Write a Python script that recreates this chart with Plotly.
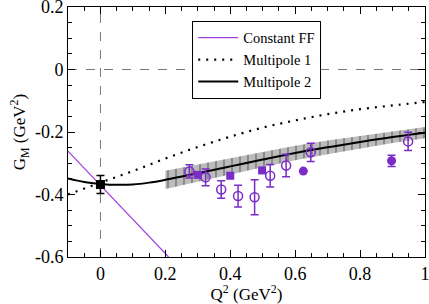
import plotly.graph_objects as go

# ---- data ----
const_x = [-0.1, 0.21]
const_y = [-0.261, -0.600]

mp1_x = [-0.1, 0.0, 0.1, 0.2, 0.3, 0.4, 0.5, 0.6, 0.7, 0.8, 0.9, 1.0]
mp1_y = [-0.400, -0.362, -0.325, -0.285, -0.248, -0.215, -0.186, -0.163, -0.143, -0.127, -0.115, -0.104]

mp2_x = [-0.1, -0.05, 0.0, 0.05, 0.1, 0.15, 0.2, 0.3, 0.4, 0.5, 0.6, 0.7, 0.8, 0.9, 1.0]
mp2_y = [-0.349, -0.360, -0.366, -0.369, -0.368, -0.362, -0.353, -0.332, -0.310, -0.288, -0.267, -0.249, -0.232, -0.216, -0.202]

band_x = [0.2, 0.3, 0.4, 0.5, 0.6, 0.7, 0.8, 0.9, 1.0]
band_c = [-0.353, -0.332, -0.310, -0.288, -0.267, -0.249, -0.232, -0.216, -0.202]
band_hw = [0.029, 0.028, 0.026, 0.025, 0.023, 0.022, 0.020, 0.019, 0.018]

open_x = [0.274, 0.324, 0.372, 0.424, 0.475, 0.523, 0.572, 0.648, 0.948]
open_y = [-0.326, -0.345, -0.384, -0.405, -0.409, -0.340, -0.307, -0.265, -0.230]
open_err = [0.021, 0.027, 0.028, 0.035, 0.056, 0.036, 0.036, 0.029, 0.029]

fsq_x = [0.300, 0.400, 0.498]
fsq_y = [-0.337, -0.340, -0.323]

fci_x = [0.625, 0.897]
fci_y = [-0.325, -0.292]
fci_err = [0.0, 0.018]

lat_x = [0.0]
lat_y = [-0.368]
lat_err = [0.029]

x_ticks = [0, 0.2, 0.4, 0.6, 0.8, 1.0]
x_ticklabels = ["0", "0.2", "0.4", "0.6", "0.8", "1"]
y_ticks = [-0.6, -0.4, -0.2, 0, 0.2]
y_ticklabels = ["-0.6", "-0.4", "-0.2", "0", "0.2"]

PURPLE = "#7a2cc8"
LINEP = "#a040e0"
FONT = "Liberation Serif"

band_hi = [c + h for c, h in zip(band_c, band_hw)]
band_lo = [c - h for c, h in zip(band_c, band_hw)]

fig = go.Figure()

# band (hatched)
fig.add_trace(go.Scatter(x=band_x, y=band_lo, mode="lines", line=dict(width=0, color="rgba(0,0,0,0)"),
                         showlegend=False, hoverinfo="skip"))
fig.add_trace(go.Scatter(x=band_x, y=band_hi, mode="lines", line=dict(width=0, color="rgba(0,0,0,0)"),
                         fill="tonexty", fillcolor="#bcbcbc",
                         fillpattern=dict(shape="|", size=8, solidity=0.15, fgcolor="#111111", bgcolor="#bcbcbc"),
                         showlegend=False, hoverinfo="skip"))

fig.add_trace(go.Scatter(x=const_x, y=const_y, mode="lines", name="Constant FF",
                         line=dict(color=LINEP, width=1.2)))
fig.add_trace(go.Scatter(x=mp1_x, y=mp1_y, mode="lines", name="Multipole 1", line_shape="spline",
                         line=dict(color="black", width=2.2, dash="2px,6px")))
fig.add_trace(go.Scatter(x=mp2_x, y=mp2_y, mode="lines", name="Multipole 2", line_shape="spline",
                         line=dict(color="black", width=2)))

fig.add_trace(go.Scatter(x=open_x, y=open_y, mode="markers", showlegend=False,
                         marker=dict(symbol="circle-open", size=9, color=PURPLE, line=dict(width=1.5, color=PURPLE)),
                         error_y=dict(type="data", array=open_err, color=PURPLE, thickness=1.5, width=4)))
fig.add_trace(go.Scatter(x=fsq_x, y=fsq_y, mode="markers", showlegend=False,
                         marker=dict(symbol="square", size=8, color=PURPLE)))
fig.add_trace(go.Scatter(x=fci_x, y=fci_y, mode="markers", showlegend=False,
                         marker=dict(symbol="circle", size=9, color=PURPLE),
                         error_y=dict(type="data", array=fci_err, color=PURPLE, thickness=1.5, width=4)))
fig.add_trace(go.Scatter(x=lat_x, y=lat_y, mode="markers", showlegend=False,
                         marker=dict(symbol="square", size=9, color="black"),
                         error_y=dict(type="data", array=lat_err, color="black", thickness=1.5, width=4)))

axis_common = dict(showgrid=False, zeroline=False, showline=True, linecolor="black", linewidth=1,
                   mirror="ticks", ticks="inside", ticklen=7, tickcolor="black", tickwidth=1,
                   ticklabeloverflow="allow",
                   tickfont=dict(family=FONT, size=18, color="black"),
                   minor=dict(ticks="inside", ticklen=4, tickcolor="black", showgrid=False))

fig.update_xaxes(range=[-0.1, 1.0], minor_dtick=0.05, minor_tick0=0,
                 title=dict(text="Q<sup>2</sup> (GeV<sup>2</sup>)", font=dict(family=FONT, size=17, color="black"), standoff=0),
                 tickvals=x_ticks, ticktext=x_ticklabels,
                 **axis_common)
fig.update_yaxes(range=[-0.6, 0.2], minor_dtick=0.05, minor_tick0=0,
                 tickvals=y_ticks, ticktext=y_ticklabels,
                 title=dict(text="G<sub>M</sub> (GeV<sup>2</sup>)", font=dict(family=FONT, size=17, color="black"), standoff=4),
                 **axis_common)

fig.add_shape(type="line", xref="x", yref="paper", x0=0, x1=0, y0=0, y1=1,
              line=dict(color="#555555", width=0.8, dash="dash"), layer="below")
fig.add_shape(type="line", xref="paper", yref="y", x0=0, x1=1, y0=0, y1=0,
              line=dict(color="#555555", width=0.8, dash="dash"), layer="below")

fig.update_layout(
    width=429, height=304,
    margin=dict(l=68, r=4, t=7, b=47, autoexpand=False),
    paper_bgcolor="white", plot_bgcolor="white",
    font=dict(family=FONT, color="black"),
    legend=dict(x=0.348, y=0.945, xanchor="left", yanchor="top", traceorder="normal",
                bgcolor="white", bordercolor="black", borderwidth=1,
                font=dict(family=FONT, size=14.5, color="black"),
                tracegroupgap=0, itemwidth=40),
)

fig.write_html("out.html", post_script="document.body.style.margin='0';",
               config={"displayModeBar": False})
